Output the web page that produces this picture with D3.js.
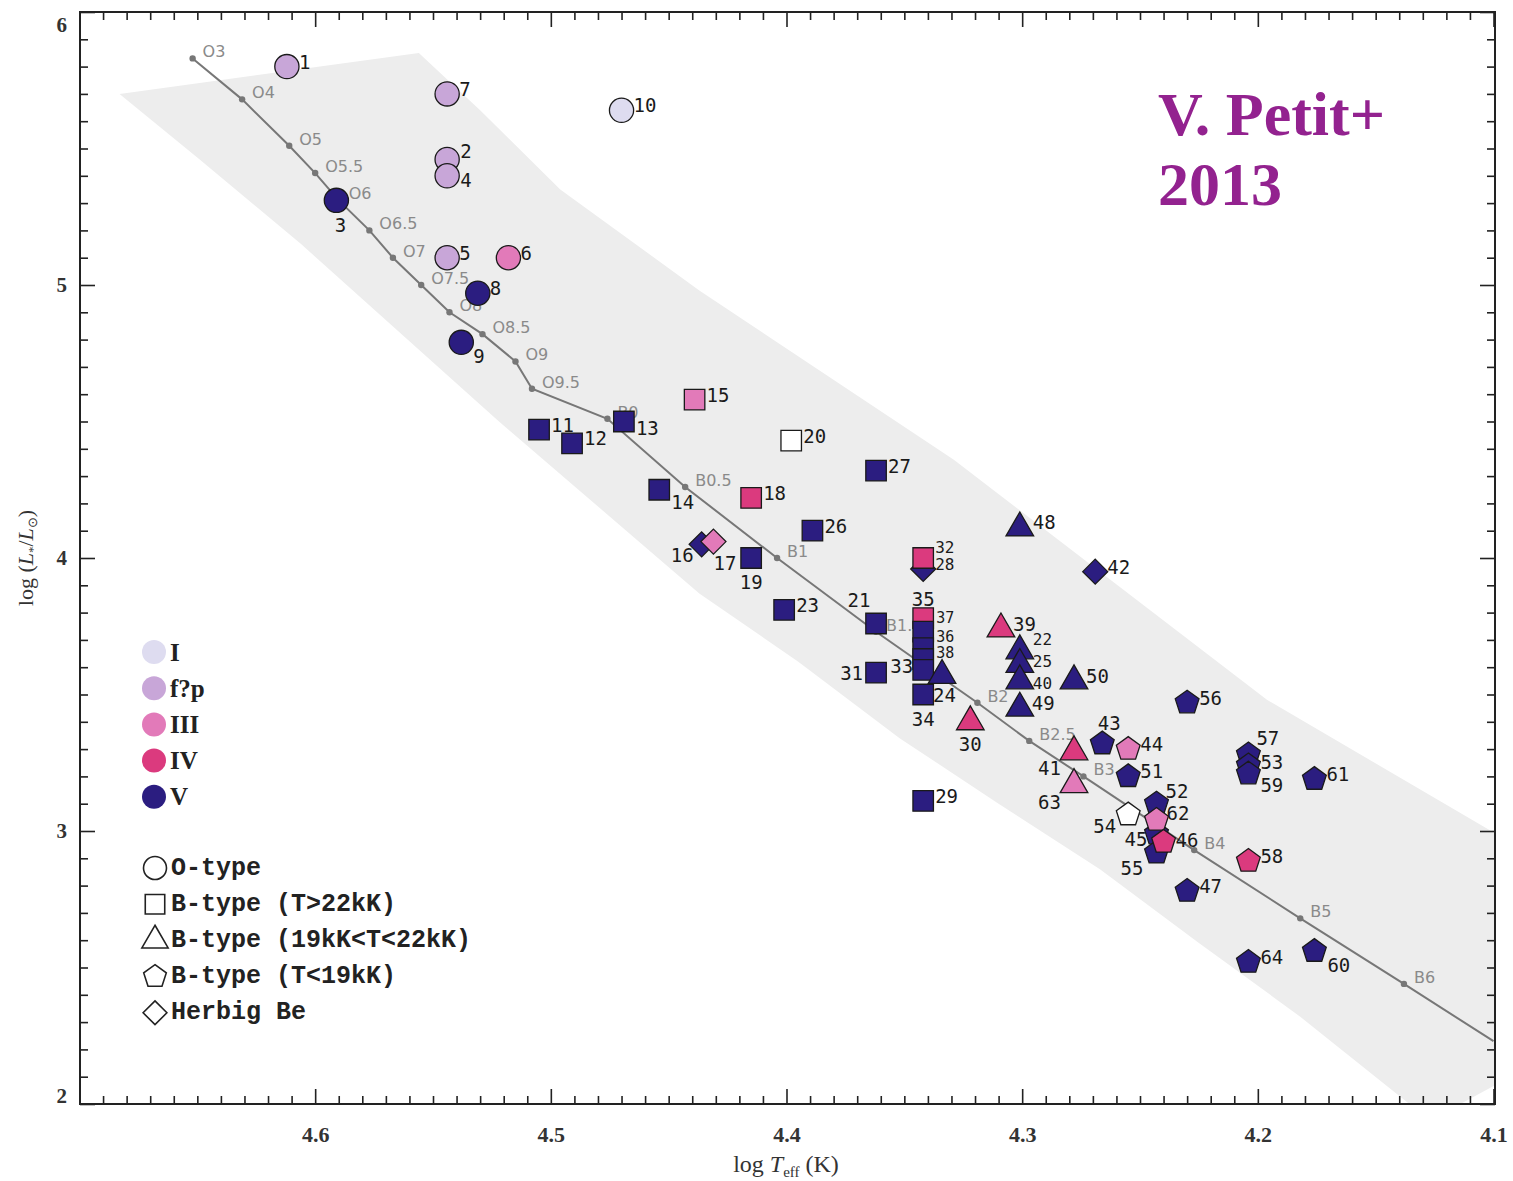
<!DOCTYPE html>
<html>
<head>
<meta charset="utf-8">
<script src="https://cdn.jsdelivr.net/npm/d3@7"></script>
<style>
  body { margin: 0; background: #fff; }
</style>
</head>
<body>
<div id="chart"></div>
<script>
// ---- data ----
// stars: id, log Teff, log L, luminosity class, marker type
const starIds   = [1, 7, 2, 4, 3, 5, 6, 8, 9, 10,
                   11, 12, 13, 15, 20, 14, 18, 16, 17, 19,
                   26, 27, 23, 21, 28, 32, 35, 37, 36, 38,
                   33, 31, 34, 24, 29, 30, 39, 48, 42, 22,
                   25, 40, 49, 50, 41, 63, 43, 44, 51, 56,
                   52, 54, 45, 62, 55, 46, 47, 58, 57, 53,
                   59, 61, 64, 60];
const starLogT  = [4.612, 4.544, 4.544, 4.544, 4.591, 4.544, 4.518, 4.531, 4.538, 4.470,
                   4.505, 4.491, 4.469, 4.439, 4.398, 4.454, 4.415, 4.436, 4.431, 4.415,
                   4.389, 4.362, 4.401, 4.362, 4.342, 4.342, 4.342, 4.342, 4.342, 4.342,
                   4.342, 4.362, 4.342, 4.334, 4.342, 4.322, 4.309, 4.301, 4.269, 4.301,
                   4.301, 4.301, 4.301, 4.278, 4.278, 4.278, 4.266, 4.255, 4.255, 4.230,
                   4.243, 4.255, 4.243, 4.243, 4.243, 4.240, 4.230, 4.204, 4.204, 4.204,
                   4.204, 4.176, 4.204, 4.176];
const starLogL  = [5.80, 5.70, 5.46, 5.40, 5.31, 5.10, 5.10, 4.97, 4.79, 5.64,
                   4.47, 4.42, 4.50, 4.58, 4.43, 4.25, 4.22, 4.05, 4.06, 4.00,
                   4.10, 4.32, 3.81, 3.76, 3.96, 4.00, 3.78, 3.73, 3.67, 3.63,
                   3.59, 3.58, 3.50, 3.57, 3.11, 3.40, 3.74, 4.11, 3.95, 3.66,
                   3.61, 3.55, 3.45, 3.55, 3.29, 3.17, 3.32, 3.30, 3.20, 3.47,
                   3.10, 3.06, 2.99, 3.04, 2.92, 2.96, 2.78, 2.89, 3.28, 3.24,
                   3.21, 3.19, 2.52, 2.56];
const starClass = ["f?p", "f?p", "f?p", "f?p", "V", "f?p", "III", "V", "V", "I",
                   "V", "V", "V", "III", "none", "V", "IV", "V", "III", "V",
                   "V", "V", "V", "V", "V", "IV", "IV", "V", "V", "V",
                   "V", "V", "V", "V", "V", "IV", "IV", "V", "V", "V",
                   "V", "V", "V", "V", "IV", "III", "V", "III", "V", "V",
                   "V", "none", "V", "III", "V", "IV", "V", "IV", "V", "V",
                   "V", "V", "V", "V"];
const starType  = ["O", "O", "O", "O", "O", "O", "O", "O", "O", "O",
                   "Bhot", "Bhot", "Bhot", "Bhot", "Bhot", "Bhot", "Bhot", "HBe", "HBe", "Bhot",
                   "Bhot", "Bhot", "Bhot", "Bhot", "HBe", "Bhot", "Bhot", "Bhot", "Bhot", "Bhot",
                   "Bhot", "Bhot", "Bhot", "Bmid", "Bhot", "Bmid", "Bmid", "Bmid", "HBe", "Bmid",
                   "Bmid", "Bmid", "Bmid", "Bmid", "Bmid", "Bmid", "Bcool", "Bcool", "Bcool", "Bcool",
                   "Bcool", "Bcool", "Bcool", "Bcool", "Bcool", "Bcool", "Bcool", "Bcool", "Bcool", "Bcool",
                   "Bcool", "Bcool", "Bcool", "Bcool"];

// ZAMS spectral-type track
const trackTypes = ["O3", "O4", "O5", "O5.5", "O6", "O6.5", "O7", "O7.5", "O8", "O8.5",
                    "O9", "O9.5", "B0", "B0.5", "B1", "B1.5", "B2", "B2.5", "B3", "B4",
                    "B5", "B6", ""];
const trackLogT  = [4.652, 4.631, 4.611, 4.600, 4.590, 4.577, 4.567, 4.555, 4.543, 4.529,
                    4.515, 4.508, 4.476, 4.443, 4.404, 4.362, 4.319, 4.297, 4.274, 4.227,
                    4.182, 4.138, 4.100];
const trackLogL  = [5.83, 5.68, 5.51, 5.41, 5.31, 5.20, 5.10, 5.00, 4.90, 4.82,
                    4.72, 4.62, 4.51, 4.26, 4.00, 3.73, 3.47, 3.33, 3.20, 2.93,
                    2.68, 2.44, 2.23];

// grey band (outline, log Teff / log L)
const bandLogT = [4.683, 4.556, 4.530, 4.496, 4.437, 4.329, 4.196, 4.099,
                  4.099, 4.127, 4.182, 4.225, 4.267, 4.310, 4.352, 4.395, 4.437, 4.522, 4.606, 4.649];
const bandLogL = [5.70, 5.85, 5.64, 5.35, 4.98, 4.36, 3.48, 2.99,
                  2.07, 1.94, 2.32, 2.59, 2.86, 3.10, 3.34, 3.62, 3.87, 4.50, 5.15, 5.46];

// legends
const classNames  = ["I", "f?p", "III", "IV", "V"];
const typeNames   = ["O", "Bhot", "Bmid", "Bcool", "HBe"];
const typeLabels  = ["O-type", "B-type (T>22kK)", "B-type (19kK<T<22kK)", "B-type (T<19kK)", "Herbig Be"];

const xTickValues = [4.6, 4.5, 4.4, 4.3, 4.2, 4.1];
const yTickValues = [2, 3, 4, 5, 6];

// ---- styling ----
const classColor = {
  "I": "#dedcf0", "f?p": "#c8a6d8", "III": "#e27ab9", "IV": "#db3a7e", "V": "#2b1d80", "none": "#ffffff"
};

// label offsets (dx, dy, anchor) where they are not to the upper right
const labelPos = {
  3: [4, 25, "middle"], 4: [13, 4, "start"], 2: [13, -8, "start"],
  9: [12, 14, "start"], 13: [12, 6, "start"], 14: [12, 12, "start"],
  16: [-8, 11, "end"], 17: [0, 21, "start"], 19: [0, 24, "middle"],
  21: [-17, -24, "middle"], 35: [0, -19, "middle"], 37: [13, -14, "start"],
  36: [13, -11, "start"], 38: [13, -6, "start"], 33: [-10, -4, "end"],
  31: [-13, 0, "end"], 24: [-9, 20, "start"], 34: [0, 24, "middle"],
  30: [0, 22, "middle"], 41: [-13, 16, "end"], 63: [-13, 17, "end"],
  43: [7, -21, "middle"], 52: [9, -13, "start"], 54: [-12, 11, "end"],
  62: [10, -7, "start"], 45: [-9, 5, "end"], 46: [12, -2, "start"],
  55: [-13, 15, "end"], 57: [8, -17, "start"], 53: [12, -3, "start"],
  59: [12, 11, "start"], 60: [13, 14, "start"], 48: [13, -6, "start"],
  32: [12, -11, "start"], 28: [12, -4, "start"], 22: [13, -11, "start"],
  25: [13, -3, "start"], 40: [13, 3, "start"]
};
// smaller type for the crowded labels
const labelSize = { 32: 16, 28: 16, 37: 15, 36: 15, 38: 15, 22: 16, 25: 16, 40: 16 };

const width = 1513, height = 1181;
const x = d3.scaleLinear().domain([4.7, 4.1]).range([79.5, 1493.5]);
const y = d3.scaleLinear().domain([2, 6]).range([1104, 12]);

const svg = d3.select("#chart").append("svg")
  .attr("width", width).attr("height", height)
  .style("font-family", "'DejaVu Sans', sans-serif");

svg.append("clipPath").attr("id", "plotClip")
  .append("rect").attr("x", 80).attr("y", 12).attr("width", 1415).attr("height", 1092);

const plot = svg.append("g").attr("clip-path", "url(#plotClip)");

// band
const bandPts = bandLogT.map((t, i) => [x(t), y(bandLogL[i])]);
plot.append("path")
  .attr("d", d3.line().curve(d3.curveLinearClosed)(bandPts))
  .attr("fill", "#ededed");

// ZAMS track
const trackPts = trackLogT.map((t, i) => [x(t), y(trackLogL[i])]);
plot.append("path")
  .attr("d", d3.line()(trackPts))
  .attr("fill", "none").attr("stroke", "#777").attr("stroke-width", 2);
plot.selectAll(".tdot").data(trackPts.slice(0, -1)).enter().append("circle")
  .attr("cx", d => d[0]).attr("cy", d => d[1]).attr("r", 3.2).attr("fill", "#777");
plot.selectAll(".tlab").data(trackTypes.slice(0, -1)).enter().append("text")
  .attr("x", (d, i) => trackPts[i][0] + 10)
  .attr("y", (d, i) => trackPts[i][1] - 1)
  .attr("font-size", 16).attr("fill", "#8a8a8a")
  .text(d => d);

// marker shapes
function shapePath(type, s) {
  s = s || 1;
  if (type === "O") return d3.symbol(d3.symbolCircle, 460 * s * s)();
  if (type === "Bhot") return d3.symbol(d3.symbolSquare, 420 * s * s)();
  if (type === "Bmid") return d3.symbol(d3.symbolTriangle, 330 * s * s)();
  if (type === "HBe") {
    const r = 12.5 * s;
    return `M0,${-r}L${r},0L0,${r}L${-r},0Z`;
  }
  const r = 12.5 * s, pts = [];
  for (let k = 0; k < 5; k++) {
    const a = -Math.PI / 2 + k * 2 * Math.PI / 5;
    pts.push([r * Math.cos(a), r * Math.sin(a)]);
  }
  return d3.line().curve(d3.curveLinearClosed)(pts);
}

const stars = starIds.map((id, i) => ({
  id: id, t: starLogT[i], l: starLogL[i], cls: starClass[i], type: starType[i]
}));

plot.selectAll(".star").data(stars).enter().append("path")
  .attr("transform", d => `translate(${x(d.t)},${y(d.l)})`)
  .attr("d", d => shapePath(d.type))
  .attr("fill", d => classColor[d.cls])
  .attr("stroke", "#1a1a1a").attr("stroke-width", 1.3);

plot.selectAll(".slab").data(stars).enter().append("text")
  .attr("x", d => x(d.t) + (labelPos[d.id] ? labelPos[d.id][0] : 12))
  .attr("y", d => y(d.l) + (labelPos[d.id] ? labelPos[d.id][1] : -5))
  .attr("text-anchor", d => labelPos[d.id] ? labelPos[d.id][2] : "start")
  .attr("dominant-baseline", "central")
  .attr("font-family", "'DejaVu Sans Mono', monospace")
  .attr("font-size", d => labelSize[d.id] || 19).attr("fill", "#1a1a1a")
  .text(d => d.id);

// axes, ticks on all four sides pointing inward
const xMinor = d3.range(0, 61).map(i => +(4.7 - i * 0.01).toFixed(2))
  .filter(v => !xTickValues.includes(v));
const yMinor = d3.range(0, 41).map(i => +(2 + i * 0.1).toFixed(1))
  .filter(v => !yTickValues.includes(v));

function styleAxis(g) {
  g.select(".domain").remove();
  g.selectAll("line").attr("stroke", "#222").attr("stroke-width", 1.6);
}

svg.append("g").attr("transform", "translate(0,1104)")
  .call(d3.axisBottom(x).tickValues(xTickValues).tickSize(-15).tickPadding(22).tickFormat(d3.format(".1f")))
  .call(styleAxis)
  .selectAll("text").attr("font-family", "'Liberation Serif', serif").attr("font-weight", "bold")
  .attr("font-size", 22).attr("fill", "#333");
svg.append("g").attr("transform", "translate(0,1104)")
  .call(d3.axisBottom(x).tickValues(xMinor).tickSize(-8).tickFormat(""))
  .call(styleAxis);
svg.append("g").attr("transform", "translate(0,12)")
  .call(d3.axisTop(x).tickValues(xTickValues).tickSize(-15).tickFormat(""))
  .call(styleAxis);
svg.append("g").attr("transform", "translate(0,12)")
  .call(d3.axisTop(x).tickValues(xMinor).tickSize(-8).tickFormat(""))
  .call(styleAxis);

svg.append("g").attr("transform", "translate(80,0)")
  .call(d3.axisLeft(y).tickValues(yTickValues).tickSize(-15).tickPadding(13).tickFormat(d3.format("d")))
  .call(styleAxis)
  .selectAll("text").attr("font-family", "'Liberation Serif', serif").attr("font-weight", "bold")
  .attr("font-size", 21).attr("fill", "#333")
  .attr("dy", d => d === 6 ? "0.95em" : d === 2 ? "-0.05em" : "0.32em");
svg.append("g").attr("transform", "translate(80,0)")
  .call(d3.axisLeft(y).tickValues(yMinor).tickSize(-8).tickFormat(""))
  .call(styleAxis);
svg.append("g").attr("transform", "translate(1495,0)")
  .call(d3.axisRight(y).tickValues(yTickValues).tickSize(-15).tickFormat(""))
  .call(styleAxis);
svg.append("g").attr("transform", "translate(1495,0)")
  .call(d3.axisRight(y).tickValues(yMinor).tickSize(-8).tickFormat(""))
  .call(styleAxis);

// frame
svg.append("rect").attr("x", 80).attr("y", 12).attr("width", 1415).attr("height", 1092)
  .attr("fill", "none").attr("stroke", "#222").attr("stroke-width", 2);

// axis titles
const xt = svg.append("text").attr("x", 786).attr("y", 1172).attr("text-anchor", "middle")
  .attr("font-family", "'Liberation Serif', serif").attr("font-size", 24).attr("fill", "#333");
xt.append("tspan").text("log ");
xt.append("tspan").attr("font-style", "italic").text("T");
xt.append("tspan").attr("font-size", 15).attr("dy", 5).text("eff");
xt.append("tspan").attr("dy", -5).text(" (K)");

const yt = svg.append("text").attr("transform", "translate(33,558) rotate(-90)")
  .attr("text-anchor", "middle")
  .attr("font-family", "'Liberation Serif', serif").attr("font-size", 22).attr("fill", "#333");
yt.append("tspan").text("log (");
yt.append("tspan").attr("font-style", "italic").text("L");
yt.append("tspan").attr("font-size", 13).attr("dy", 4).text("*");
yt.append("tspan").attr("dy", -4).text("/");
yt.append("tspan").attr("font-style", "italic").text("L");
yt.append("tspan").attr("font-size", 13).attr("dy", 4).text("\u2299");
yt.append("tspan").attr("dy", -4).text(")");

// colour legend
const legC = svg.append("g");
classNames.forEach((c, i) => {
  const cy = 652 + i * 36.2;
  legC.append("circle").attr("cx", 154).attr("cy", cy).attr("r", 12).attr("fill", classColor[c]);
  legC.append("text").attr("x", 170).attr("y", cy).attr("dominant-baseline", "central")
    .attr("font-family", "'Liberation Serif', serif").attr("font-weight", "bold")
    .attr("font-size", 25).attr("fill", "#222").text(c);
});

// shape legend
const legS = svg.append("g");
typeNames.forEach((t, i) => {
  const cy = 868 + i * 36.2;
  legS.append("path").attr("transform", `translate(155,${cy})`)
    .attr("d", shapePath(t, 0.95)).attr("fill", "none").attr("stroke", "#222").attr("stroke-width", 1.6);
  legS.append("text").attr("x", 171).attr("y", cy).attr("dominant-baseline", "central")
    .attr("font-family", "'Liberation Mono', monospace").attr("font-weight", "bold")
    .attr("font-size", 25).attr("fill", "#222").text(typeLabels[i]);
});

// annotation
const ann = svg.append("text").attr("font-family", "'Liberation Serif', serif")
  .attr("font-weight", "bold").attr("font-size", 62).attr("fill", "#93228f");
ann.append("tspan").attr("x", 1158).attr("y", 135).text("V. Petit+");
ann.append("tspan").attr("x", 1158).attr("y", 205).text("2013");
</script>
</body>
</html>
